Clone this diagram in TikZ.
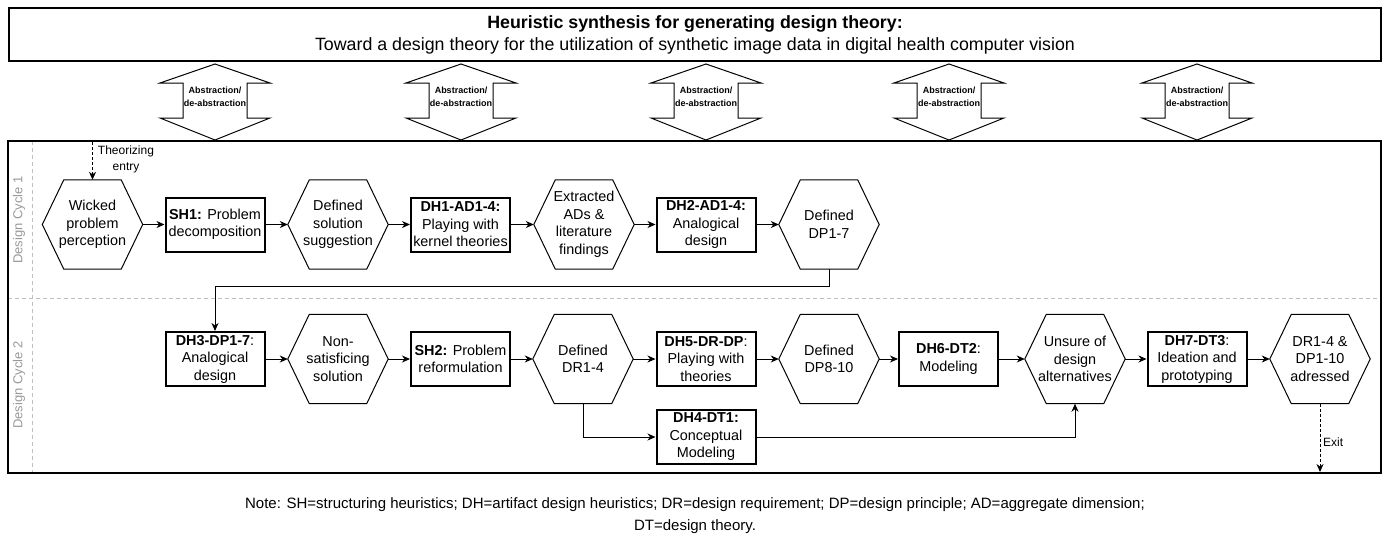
\documentclass[tikz,border=0pt]{standalone}
\usepackage{fontspec}
\setmainfont{Liberation Sans}
\usetikzlibrary{arrows.meta}
\newcommand\mynodefont{\fontsize{14.4}{17.5}\selectfont}
\newcommand\myabfont{\fontsize{9}{13}\selectfont\bfseries}
\newcommand\drawhex[1]{\draw[line width=1pt] (#1.west) -- ([xshift=21.5pt]#1.north west) -- ([xshift=-21.5pt]#1.north east) -- (#1.east) -- ([xshift=-21.5pt]#1.south east) -- ([xshift=21.5pt]#1.south west) -- cycle;}
\newcommand\abarrow[2]{%
\draw[line width=1pt] (#2,64) -- (#2+55,83) -- (#2+32,83) -- (#2+32,118) -- (#2+55,118) -- (#2,140) -- (#2-55,118) -- (#2-32,118) -- (#2-32,83) -- (#2-55,83) -- cycle;
\node[font=\myabfont, align=center, inner sep=0pt] (#1) at (#2,97) {Abstraction/\\de-abstraction};}
\begin{document}
\begin{tikzpicture}[x=1pt,y=-1pt,
  proc/.style={draw, line width=2pt, minimum width=99pt, minimum height=54pt, inner sep=1pt, align=center, font=\mynodefont},
  hexn/.style={minimum width=100pt, minimum height=89pt, inner sep=0pt, align=center, font=\mynodefont},
  flow/.style={line width=1pt, -{Stealth[length=8pt,width=7pt,inset=2.5pt]}},
  dflow/.style={flow, dash pattern=on 3pt off 2pt},
  lane/.style={draw=black!25, line width=0.8pt, dash pattern=on 4pt off 3pt},
  lanelabel/.style={rotate=90, text=black!40, font=\fontsize{13}{15}\selectfont},
  small/.style={font=\fontsize{12}{16}\selectfont, align=center, inner sep=0pt}]
\useasboundingbox (0,0) rectangle (1389,539);
% title
\node[draw, line width=2pt, minimum width=1372pt, minimum height=53pt, align=center, font=\fontsize{17.8}{22}\selectfont] (title) at (695,34.5)
  {\textbf{Heuristic synthesis for generating design theory:}\\Toward a design theory for the utilization of synthetic image data in digital health computer vision};
% abstraction arrows
\abarrow{ab1}{215}
\abarrow{ab2}{461}
\abarrow{ab3}{706}
\abarrow{ab4}{949}
\abarrow{ab5}{1197}
% main frame and lanes
\draw[lane] (8,298) -- (1381,298);
\draw[lane] (32,141) -- (32,473);
\draw[line width=2pt] (8,141) rectangle (1381,473);
\node[lanelabel] (lab1) at (19,220) {Design Cycle 1};
\node[lanelabel] (lab2) at (19,385) {Design Cycle 2};
% cycle 1
\node[hexn] (wicked) at (92.5,224.5) {Wicked\\problem\\perception};
\node[proc] (sh1) at (215,224.5) {\textbf{SH1:} Problem\\decomposition};
\node[hexn] (defsol) at (338,224.5) {Defined\\solution\\suggestion};
\node[proc] (dh1) at (460.5,224.5) {\textbf{DH1-AD1-4:}\\Playing with\\kernel theories};
\node[hexn] (extr) at (584,224.5) {Extracted\\ADs \&\\literature\\findings};
\node[proc] (dh2) at (706,224.5) {\textbf{DH2-AD1-4:}\\Analogical\\design};
\node[hexn] (dp17) at (829,224.5) {Defined\\DP1-7};
% cycle 2
\node[proc] (dh3) at (215,359) {\textbf{DH3-DP1-7}:\\Analogical\\design};
\node[hexn] (nonsat) at (338,359) {Non-\\satisficing\\solution};
\node[proc] (sh2) at (460.5,359) {\textbf{SH2:} Problem\\reformulation};
\node[hexn] (dr14) at (583,359) {Defined\\DR1-4};
\node[proc] (dh5) at (706,359) {\textbf{DH5-DR-DP}:\\Playing with\\theories};
\node[hexn] (dp810) at (829,359) {Defined\\DP8-10};
\node[proc] (dh6) at (948.5,359) {\textbf{DH6-DT2}:\\Modeling};
\node[hexn] (unsure) at (1075,359) {Unsure of\\design\\alternatives};
\node[proc] (dh7) at (1197,359) {\textbf{DH7-DT3}:\\Ideation and\\prototyping};
\node[hexn] (final) at (1320,359) {DR1-4 \&\\DP1-10\\adressed};
\node[proc] (dh4) at (706,437) {\textbf{DH4-DT1:}\\Conceptual\\Modeling};
\foreach \h in {wicked,defsol,extr,dp17,nonsat,dr14,dp810,unsure,final} {\drawhex{\h}}
% connectors
\draw[flow] (wicked.east) -- (sh1.west);
\draw[flow] (sh1.east) -- (defsol.west);
\draw[flow] (defsol.east) -- (dh1.west);
\draw[flow] (dh1.east) -- (extr.west);
\draw[flow] (extr.east) -- (dh2.west);
\draw[flow] (dh2.east) -- (dp17.west);
\coordinate (turn) at (0,286);
\draw[flow] (dp17.south) -- (dp17.south |- turn) -- (dh3.north |- turn) -- (dh3.north);
\draw[flow] (dh3.east) -- (nonsat.west);
\draw[flow] (nonsat.east) -- (sh2.west);
\draw[flow] (sh2.east) -- (dr14.west);
\draw[flow] (dr14.east) -- (dh5.west);
\draw[flow] (dh5.east) -- (dp810.west);
\draw[flow] (dp810.east) -- (dh6.west);
\draw[flow] (dh6.east) -- (unsure.west);
\draw[flow] (unsure.east) -- (dh7.west);
\draw[flow] (dh7.east) -- (final.west);
\draw[flow] (dr14.south) |- (dh4.west);
\draw[flow] (dh4.east) -| (unsure.south);
% entry / exit
\coordinate (entry) at (92.5,142);
\draw[dflow] (entry) -- (wicked.north);
\node[small] (entrylab) at (126,159) {Theorizing\\entry};
\coordinate (exitpt) at (1320,472);
\draw[dflow] (final.south) -- (exitpt);
\node[small, anchor=west] (exitlab) at (1323,442) {Exit};
% note
\node[align=center, inner sep=0pt, font=\fontsize{15}{22}\selectfont] (note) at (695,516)
  {Note: SH=structuring heuristics; DH=artifact design heuristics; DR=design requirement; DP=design principle; AD=aggregate dimension;\\DT=design theory.};
\end{tikzpicture}
\end{document}
